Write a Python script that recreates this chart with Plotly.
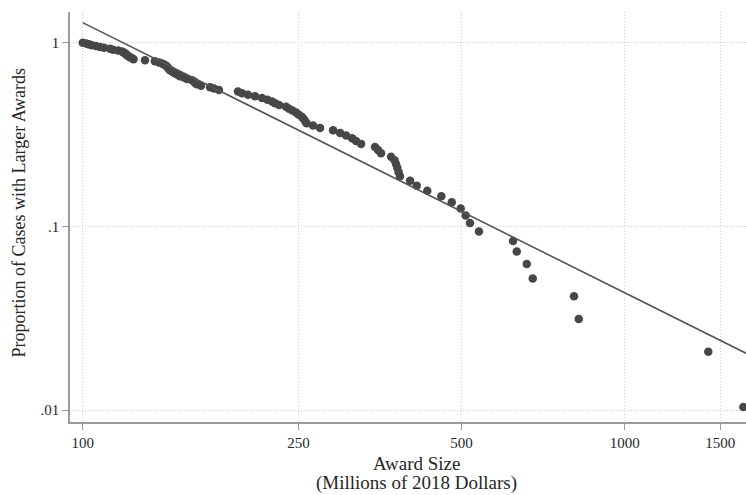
import numpy as np
import plotly.graph_objects as go

# Award sizes (millions of 2018 dollars), ascending
award_size = [
    100.0, 101.4, 102.7, 104.0, 105.8, 107.6, 109.5, 112.3, 113.7, 116.2,
    118.2, 118.9, 119.7, 120.2, 120.7, 121.5, 122.3, 123.3, 124.1, 130.3,
    135.9, 138.3, 140.0, 141.3, 142.5, 143.1, 143.7, 144.3, 144.9, 146.2,
    147.1, 148.4, 149.9, 151.2, 153.8, 155.8, 159.1, 160.5, 161.2, 162.5,
    165.3, 171.8, 174.7, 178.4, 193.4, 196.7, 201.8, 207.9, 214.2, 219.2,
    223.5, 226.4, 230.3, 237.2, 240.3, 243.8, 247.5, 250.1, 253.6, 255.5,
    257.2, 258.8, 266.1, 274.1, 289.7, 298.5, 306.2, 314.1, 319.4, 326.3,
    346.3, 350.7, 355.2, 370.6, 376.2, 378.5, 380.6, 382.6, 385.0, 401.8,
    413.3, 432.3, 458.8, 479.6, 498.2, 508.9, 518.3, 538.4, 622.3, 632.2,
    659.6, 676.6, 806.3, 822.6, 1426.4, 1655.3,
]

# Proportion of cases with larger awards
proportion = [
    1.0, .9896, .9792, .9688, .9583, .9479, .9375, .9271, .9167, .9063,
    .8958, .8854, .875, .8646, .8542, .8438, .8333, .8229, .8125, .8021,
    .7917, .7813, .7708, .7604, .75, .7396, .7292, .7188, .7083, .6979,
    .6875, .6771, .6667, .6563, .6458, .6354, .625, .6146, .6042, .5938,
    .5833, .5729, .5625, .5521, .5417, .5313, .5208, .5104, .5, .4896,
    .4792, .4688, .4583, .4479, .4375, .4271, .4167, .4063, .3958, .3854,
    .375, .3646, .3542, .3438, .3333, .3229, .3125, .3021, .2917, .2813,
    .2708, .2604, .25, .2396, .2292, .2188, .2083, .1979, .1875, .1771,
    .1667, .1563, .1458, .1354, .125, .1146, .1042, .0938, .0833, .0729,
    .0625, .0521, .0417, .0313, .0208, .0104,
]

# Fitted power-law line (endpoints)
fit_x = [100, 1674]
fit_y = [1.286, 0.0204]

x_tickvals = [100, 250, 500, 1000, 1500]
x_ticktext = ["100", "250", "500", "1000", "1500"]
y_tickvals = [1, 0.1, 0.01]
y_ticktext = ["1", ".1", ".01"]

FONT = "Liberation Serif, Times New Roman, serif"
TXT = "#262626"

fig = go.Figure()
fig.add_trace(go.Scatter(
    x=award_size, y=proportion, mode="markers",
    marker=dict(size=8.5, color="#474747", line=dict(width=0)),
    showlegend=False, cliponaxis=True,
))
fig.add_trace(go.Scatter(
    x=fit_x, y=fit_y, mode="lines",
    line=dict(color="#555555", width=1.6),
    showlegend=False,
))

axis_common = dict(
    showgrid=True, gridcolor="#d0d0d0", gridwidth=1, griddash="1px,2px",
    showline=True, linecolor="#9a9a9a", linewidth=1.5,
    ticks="outside", ticklen=6, tickcolor="#9a9a9a", tickwidth=1,
    zeroline=False, tickfont=dict(family=FONT, size=15, color=TXT),
)

fig.update_xaxes(
    type="log", range=[1.97657, 3.2238],
    tickvals=x_tickvals, ticktext=x_ticktext, **axis_common,
)
fig.update_yaxes(
    type="log", range=[-2.0648, 0.1671],
    tickvals=y_tickvals, ticktext=y_ticktext, **axis_common,
)

fig.update_layout(
    width=746, height=495,
    margin=dict(l=70, r=0, t=12, b=73),
    paper_bgcolor="white", plot_bgcolor="white",
    font=dict(family=FONT, color=TXT),
    annotations=[
        dict(text="Award Size",
             xref="paper", yref="paper", x=0.513, y=-0.1024,
             xanchor="center", yanchor="middle", showarrow=False,
             font=dict(family=FONT, size=19, color=TXT)),
        dict(text="(Millions of 2018 Dollars)",
             xref="paper", yref="paper", x=0.513, y=-0.1488,
             xanchor="center", yanchor="middle", showarrow=False,
             font=dict(family=FONT, size=19, color=TXT)),
        dict(text="Proportion of Cases with Larger Awards",
             xref="paper", yref="paper", x=-0.074, y=0.511,
             xanchor="center", yanchor="middle", textangle=-90,
             showarrow=False,
             font=dict(family=FONT, size=18, color=TXT)),
    ],
)

fig.write_html("out.html")
